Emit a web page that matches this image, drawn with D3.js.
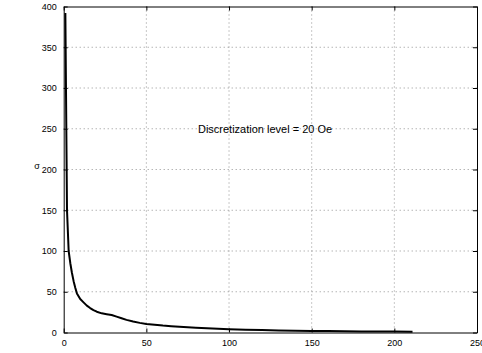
<!DOCTYPE html>
<html><head><meta charset="utf-8">
<script src="https://cdn.jsdelivr.net/npm/d3@7"></script>
<style>body{margin:0;background:#fff}svg{display:block}text{font-family:"Liberation Sans",Arial,sans-serif}</style>
</head><body>
<svg id="c" width="482" height="353"></svg>
<script>
const xs = [1,2,3,4,5,6,7,8,10,12,14,16,18,20,23,26,29,32,35,38,42,46,50,55,60,65,70,80,90,100,110,120,130,140,150,160,170,180,190,200,211];
const sigma = [392,150,100,85,73,63,55,48,41,37,33,30,27.5,25.5,23.5,22.5,21.5,19.5,17.5,15.5,13.5,11.8,10.5,9.5,8.5,7.8,7,5.8,4.8,4,3.5,3,2.6,2.2,1.9,1.7,1.5,1.3,1.2,1.1,1];
const xTicks = [0,50,100,150,200,250];
const yTicks = [0,50,100,150,200,250,300,350,400];
const annotation = "Discretization level = 20 Oe";
const yLabel = "σ";

const svg = d3.select("#c");
const L=63.7, R=477, T=6.5, B=332.5;
const x = d3.scaleLinear().domain([0,250]).range([L,R]);
const y = d3.scaleLinear().domain([0,400]).range([B,T]);

// grid
const g = svg.append("g");
g.selectAll(".gx").data(xTicks.slice(1,-1)).enter().append("line")
 .attr("x1",d=>x(d)).attr("x2",d=>x(d)).attr("y1",T).attr("y2",B)
 .attr("stroke","#777").attr("stroke-width",0.8).attr("stroke-dasharray","1,3");
g.selectAll(".gy").data(yTicks.slice(1,-1)).enter().append("line")
 .attr("y1",d=>y(d)).attr("y2",d=>y(d)).attr("x1",L).attr("x2",R)
 .attr("stroke","#777").attr("stroke-width",0.8).attr("stroke-dasharray","1,3");

// axes
const fmt = d3.format("d");
const ax = [
 [d3.axisBottom(x).tickValues(xTicks).tickSizeInner(-4).tickSizeOuter(0).tickPadding(7).tickFormat(fmt), `translate(0,${B})`],
 [d3.axisTop(x).tickValues(xTicks).tickSizeInner(-4).tickSizeOuter(0).tickFormat(""), `translate(0,${T})`],
 [d3.axisLeft(y).tickValues(yTicks).tickSizeInner(-4).tickSizeOuter(0).tickPadding(7).tickFormat(fmt), `translate(${L},0)`],
 [d3.axisRight(y).tickValues(yTicks).tickSizeInner(-4).tickSizeOuter(0).tickFormat(""), `translate(${R},0)`]
];
ax.forEach(([a,t])=>{
  const s = svg.append("g").attr("transform",t).call(a);
  s.select(".domain").attr("stroke","#000").attr("stroke-width",1);
  s.selectAll(".tick line").attr("stroke","#000");
  s.selectAll("text").attr("font-size",9).attr("fill","#000").attr("font-family","Liberation Sans, Arial, sans-serif");
});

// curve
const line = d3.line().x((d,i)=>x(xs[i])).y(d=>y(d));
svg.append("path").datum(sigma).attr("d",line)
 .attr("fill","none").attr("stroke","#000").attr("stroke-width",2).attr("stroke-linejoin","round");

// annotation
svg.append("text").attr("x",x(81.2)).attr("y",y(250)).attr("dy","0.35em")
 .attr("font-size",11).attr("fill","#000").text(annotation);

// y label
svg.append("text").attr("x",37).attr("y",166).attr("text-anchor","middle").attr("dy","0.35em")
 .attr("font-size",9).attr("fill","#000").text(yLabel);
</script>
</body></html>
